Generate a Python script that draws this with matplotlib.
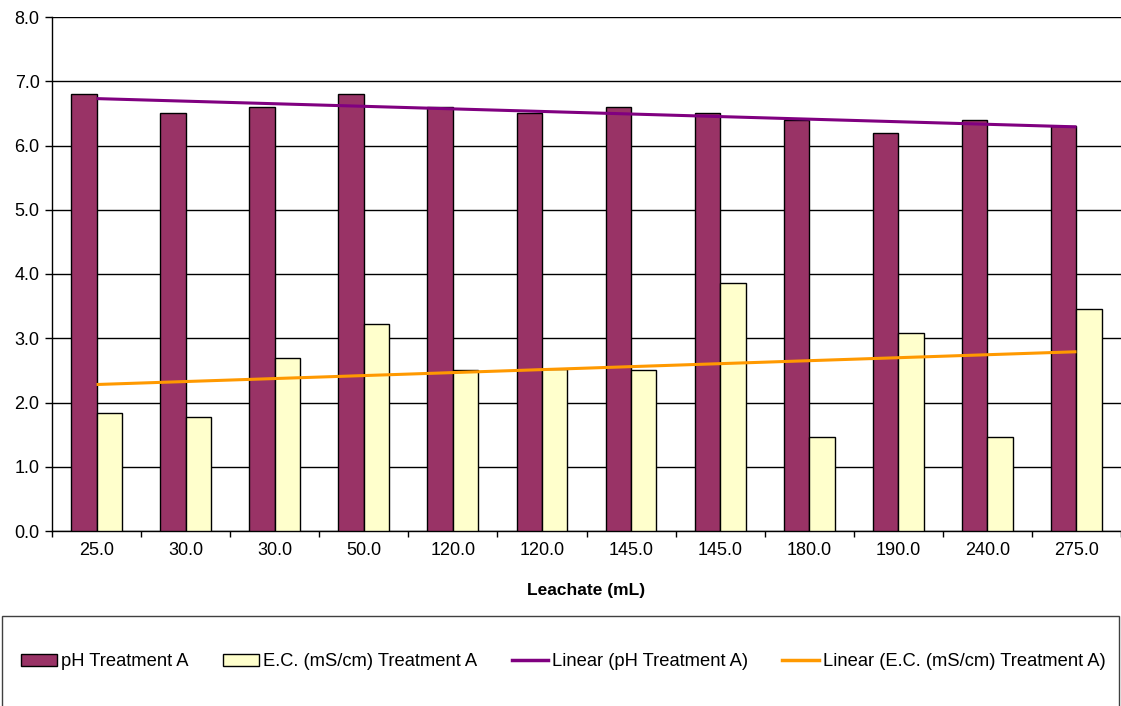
import numpy as np
import matplotlib
matplotlib.use('Agg')
import matplotlib.pyplot as plt
import matplotlib.patches as mpatches
from matplotlib.lines import Line2D

plt.rcParams['font.family'] = ['Liberation Sans', 'DejaVu Sans']

# leachate volume per sample (mL) and measured values
leachate_labels = ['25.0', '30.0', '30.0', '50.0', '120.0', '120.0',
                   '145.0', '145.0', '180.0', '190.0', '240.0', '275.0']
ph_values = [6.8, 6.5, 6.6, 6.8, 6.6, 6.5, 6.6, 6.5, 6.4, 6.2, 6.4, 6.3]
ec_values = [1.84, 1.77, 2.70, 3.22, 2.51, 2.52, 2.51, 3.86, 1.46, 3.08, 1.46, 3.46]

# linear trend end points (first and last sample)
ph_trend = [6.73, 6.29]
ec_trend = [2.28, 2.79]

series_names = ['pH Treatment A', 'E.C. (mS/cm) Treatment A',
                'Linear (pH Treatment A)', 'Linear (E.C. (mS/cm) Treatment A)']

PH_COLOR = '#993366'
EC_COLOR = '#FFFFCC'
PH_TREND_COLOR = '#800080'
EC_TREND_COLOR = '#FF9900'

W, H = 1121, 706
fig = plt.figure(figsize=(W / 100, H / 100), dpi=100)
ax = fig.add_axes([52 / W, 1 - 531 / H, 1 - 52 / W, (531 - 17) / H])

x = np.arange(len(leachate_labels))
bar_w = 1 / 3.5  # gap width 150%

ax.bar(x - bar_w / 2, ph_values, bar_w, color=PH_COLOR, edgecolor='black',
       linewidth=1, zorder=3)
ax.bar(x + bar_w / 2, ec_values, bar_w, color=EC_COLOR, edgecolor='black',
       linewidth=1, zorder=3)

ends = [x[0], x[-1]]
ax.plot(ends, ph_trend, color=PH_TREND_COLOR, lw=2.2, zorder=4,
        solid_capstyle='butt')
ax.plot(ends, ec_trend, color=EC_TREND_COLOR, lw=2.2, zorder=4,
        solid_capstyle='butt')

ax.set_xlim(-0.5, len(x) - 0.5)
ax.set_ylim(0, 8)
ax.set_yticks(np.arange(0, 9, 1))
ax.set_yticklabels([f'{v:.1f}' for v in np.arange(0, 9, 1)], fontsize=13)
ax.yaxis.grid(True, color='black', linewidth=1)
ax.set_axisbelow(True)

# tick marks between categories, labels at category centres
ax.set_xticks(np.arange(len(x) + 1) - 0.5)
ax.set_xticklabels([])
ax.set_xticks(x, minor=True)
ax.set_xticklabels(leachate_labels, minor=True, fontsize=13)
ax.tick_params(axis='x', which='minor', length=0, pad=8)
ax.tick_params(axis='x', which='major', direction='out', length=4, width=1)
ax.tick_params(axis='y', direction='out', length=5, width=1, pad=4)

for side in ['top', 'right']:
    ax.spines[side].set_visible(False)
for side in ['left', 'bottom']:
    ax.spines[side].set_color('black')
    ax.spines[side].set_linewidth(1)

ax.set_xlabel('Leachate (mL)', fontsize=12.5, fontweight='bold', labelpad=17)

# legend box runs past the bottom edge
box = mpatches.Rectangle((2 / W, -0.05), 1117 / W, 0.05 + 1 - 616 / H,
                         transform=fig.transFigure, fill=False,
                         edgecolor='#404040', linewidth=1, clip_on=False)
fig.patches.append(box)

handles = [
    mpatches.Patch(facecolor=PH_COLOR, edgecolor='black', linewidth=1),
    mpatches.Patch(facecolor=EC_COLOR, edgecolor='black', linewidth=1),
    Line2D([], [], color=PH_TREND_COLOR, lw=2.5),
    Line2D([], [], color=EC_TREND_COLOR, lw=2.5),
]
fig.legend(handles, series_names, loc='center',
           bbox_to_anchor=(563 / W, 1 - 662 / H), ncol=4, frameon=False,
           fontsize=13.2, handlelength=2.0, handleheight=0.6,
           handletextpad=0.2, columnspacing=1.87)

fig.savefig('out.png', dpi=100)
